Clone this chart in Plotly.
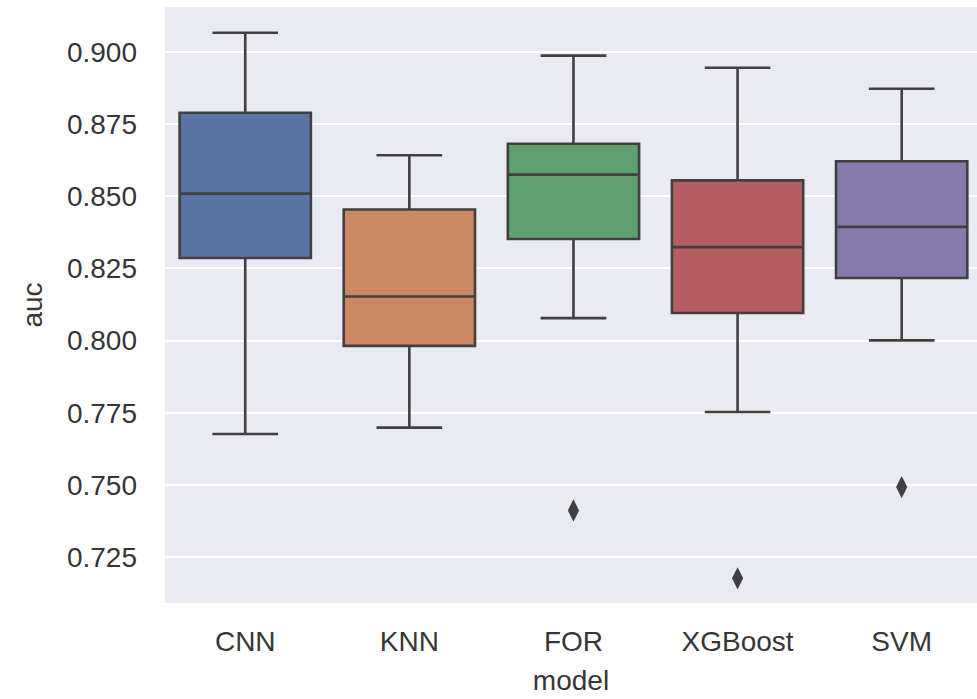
import plotly.graph_objects as go

models = ["CNN", "KNN", "FOR", "XGBoost", "SVM"]
q1 = [0.8286, 0.7982, 0.8352, 0.8096, 0.8217]
median = [0.8509, 0.8153, 0.8575, 0.8324, 0.8394]
q3 = [0.8789, 0.8454, 0.8682, 0.8555, 0.8621]
lower = [0.7677, 0.7699, 0.8078, 0.7753, 0.8001]
upper = [0.9066, 0.8642, 0.8987, 0.8945, 0.8872]
outlier_models = ["FOR", "XGBoost", "SVM"]
outlier_values = [0.7412, 0.7177, 0.7493]
y_ticks = [0.725, 0.750, 0.775, 0.800, 0.825, 0.850, 0.875, 0.900]

colors = ["#5975a4", "#cc8963", "#5f9e6e", "#b55d60", "#857aab"]
line_col = "#404040"
font_fam = "Liberation Sans, Arial, sans-serif"

fig = go.Figure()
for i, m in enumerate(models):
    fig.add_trace(go.Box(
        x=[m], q1=[q1[i]], median=[median[i]], q3=[q3[i]],
        lowerfence=[lower[i]], upperfence=[upper[i]],
        fillcolor=colors[i], line=dict(color=line_col, width=2.6),
        width=0.8, whiskerwidth=0.5, showlegend=False, boxpoints=False,
        name=m,
    ))

fig.add_trace(go.Scatter(
    x=outlier_models, y=outlier_values, mode="markers",
    marker=dict(symbol="diamond-tall", size=16, color=line_col),
    showlegend=False,
))

fig.update_layout(
    width=977, height=699,
    margin=dict(l=165, r=0, t=7, b=96),
    paper_bgcolor="white", plot_bgcolor="#EAEAF2",
    font=dict(family=font_fam, size=28, color="#363636"),
)
fig.update_xaxes(
    type="category", categoryorder="array", categoryarray=models,
    range=[-0.489, 4.459], showgrid=False, zeroline=False, showline=False,
    ticks="", ticklabelstandoff=19,
    title=dict(text="model", standoff=14, font=dict(size=28)),
)
fig.update_yaxes(
    range=[0.70916, 0.91553], tickvals=y_ticks,
    ticktext=[f"{v:.3f}" for v in y_ticks],
    showgrid=True, gridcolor="white", gridwidth=2, zeroline=False, showline=False,
    ticks="", ticklabelstandoff=27,
    title=dict(text="auc", standoff=16, font=dict(size=28)),
)
fig.write_html("out.html", config={"displayModeBar": False},
               post_script="document.body.style.margin='0';")
